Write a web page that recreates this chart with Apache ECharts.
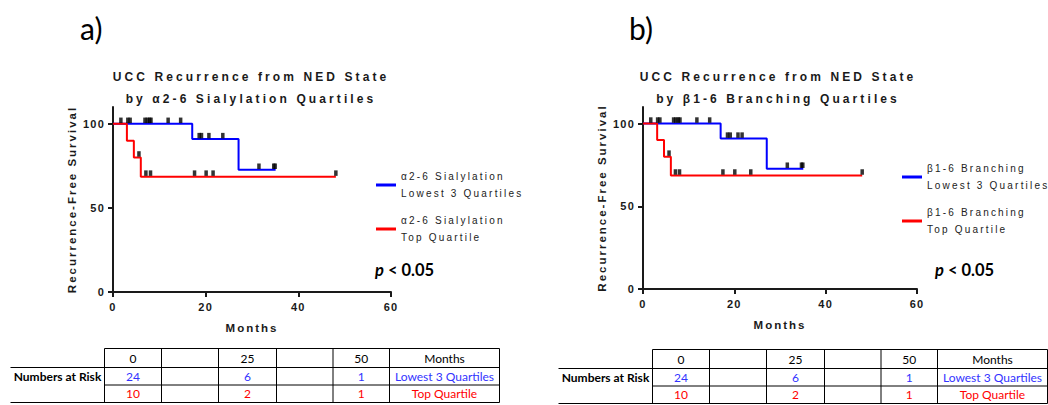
<!DOCTYPE html>
<html>
<head>
<meta charset="utf-8">
<title>UCC Recurrence from NED State</title>
<script src="https://cdn.jsdelivr.net/npm/echarts@6/dist/echarts.min.js"></script>
<style>
  html, body { margin: 0; padding: 0; background: #fff; }
  #chart { width: 1048px; height: 405px; }
  /* GraphPad-like spaced lettering (svg renderer only) */
  #chart text[style*="Liberation"][style*="12px"] { letter-spacing: 3.1px; }
  #chart text[style*="Liberation"][style*="11.5px"] { letter-spacing: 2px; }
  #chart text[style*="Liberation"][style*="11px"] { letter-spacing: 1.2px; }
  #chart text[style*="Liberation"][style*="10px"] { letter-spacing: 2.2px; }
</style>
</head>
<body>
<div id="chart"></div>
<script>
// panel a) : alpha2-6 sialylation
const aLowTimes = [0, 17.1, 27.1, 35.1]
const aLowSurv = [100, 90.9, 72.7, 72.7]
const aLowCensor = [1.7, 3.2, 3.7, 6.9, 7.4, 7.9, 8.2, 11.9, 14.6, 18.6, 19.1, 20.7, 23.7, 31.5, 34.7, 35.0]
const aTopTimes = [0, 3.0, 4.5, 6.0, 48.1]
const aTopSurv = [100, 90, 80, 68.6, 68.6]
const aTopCensor = [5.6, 7.1, 8.1, 17.6, 20.1, 21.6, 48.1]

// panel b) : beta1-6 branching
const bLowTimes = [0, 17.0, 27.1, 35.1]
const bLowSurv = [100, 90.9, 72.7, 72.7]
const bLowCensor = [1.7, 3.2, 3.7, 6.7, 7.2, 7.7, 8.1, 11.8, 14.6, 18.5, 19.1, 20.8, 21.7, 31.6, 34.7, 35.0]
const bTopTimes = [0, 3.1, 4.6, 6.1, 48.0]
const bTopSurv = [100, 90, 80, 68.6, 68.6]
const bTopCensor = [5.7, 7.1, 8.0, 17.5, 20.1, 23.6, 48.0]

const yTicks = [0, 50, 100]

// numbers at risk table
const riskMonths = ["0", "25", "50"]
const riskLow = [24, 6, 1]
const riskTop = [10, 2, 1]

const AX = "#1a1a1a"
const GP = "Liberation Sans"
const BLUE = "#0000ff"
const RED = "#ff0000"

const stepData = (times, surv) => times.map((t, i) => [t, surv[i]])
const survAt = (times, surv, t) => {
  let v = surv[0]
  times.forEach((x, i) => { if (x <= t) v = surv[i] })
  return v
}
const censorData = (times, surv, cens) => cens.map((t) => [t, survAt(times, surv, t)])

const panels = [
  {
    grid: { left: 113, top: 107, width: 278, height: 185 },
    cx: 251, tag: "a)", tagX: 80, pX: 375,
    title2: "by \u03b12-6 Sialylation Quartiles",
    lowName: "\u03b12-6 Sialylation\nLowest 3 Quartiles",
    topName: "\u03b12-6 Sialylation\nTop Quartile",
    legend: { left: 371, top: 163 },
    low: [aLowTimes, aLowSurv, aLowCensor],
    top: [aTopTimes, aTopSurv, aTopCensor],
    table: { x: 104.5, y: 348.5 },
  },
  {
    grid: { left: 643, top: 107, width: 274, height: 182 },
    cx: 778, tag: "b)", tagX: 629, pX: 935,
    title2: "by \u03b21-6 Branching Quartiles",
    lowName: "\u03b21-6 Branching\nLowest 3 Quartiles",
    topName: "\u03b21-6 Branching\nTop Quartile",
    legend: { left: 897, top: 155 },
    low: [bLowTimes, bLowSurv, bLowCensor],
    top: [bTopTimes, bTopSurv, bTopCensor],
    table: { x: 652.5, y: 349.5 },
  },
]

const gpText = (size, bold) => ({
  fontFamily: GP, fontSize: size, fontWeight: bold ? "bold" : "normal", color: AX,
})

const option = {
  animation: false,
  grid: [],
  xAxis: [],
  yAxis: [],
  legend: [],
  series: [],
  graphic: [],
}

panels.forEach((p, i) => {
  option.grid.push(p.grid)
  option.xAxis.push({
    gridIndex: i,
    type: "value",
    min: 0,
    max: 60,
    interval: 20,
    name: "Months",
    nameLocation: "middle",
    nameGap: 30,
    nameTextStyle: gpText(11.5, true),
    axisLine: { show: true, onZero: false, lineStyle: { color: AX, width: 2 } },
    axisTick: { show: true, length: 5, lineStyle: { color: AX, width: 2 } },
    axisLabel: { margin: 9, ...gpText(11, true) },
    splitLine: { show: false },
  })
  option.yAxis.push({
    gridIndex: i,
    type: "value",
    min: 0,
    max: 110,
    interval: 50,
    name: "Recurrence-Free Survival",
    nameLocation: "middle",
    nameRotate: 90,
    nameGap: 35,
    nameTextStyle: gpText(11.5, true),
    axisLine: { show: true, onZero: false, lineStyle: { color: AX, width: 2 } },
    axisTick: { show: true, length: 5, customValues: yTicks, lineStyle: { color: AX, width: 2 } },
    axisLabel: {
      margin: 8,
      customValues: yTicks,
      formatter: (v) => (yTicks.includes(v) ? String(v) : ""),
      ...gpText(11, true),
    },
    splitLine: { show: false },
  })

  option.legend.push({
    data: [p.lowName, p.topName],
    orient: "vertical",
    left: p.legend.left,
    top: p.legend.top,
    icon: "rect",
    itemWidth: 20,
    itemHeight: 3,
    itemGap: 10,
    selectedMode: false,
    textStyle: { ...gpText(10, false), color: "#222", lineHeight: 17 },
  })

  // survival curves
  ;[[p.lowName, p.low, BLUE], [p.topName, p.top, RED]].forEach(([name, d, color]) => {
    option.series.push({
      name: name,
      type: "line",
      step: "end",
      xAxisIndex: i,
      yAxisIndex: i,
      data: stepData(d[0], d[1]),
      showSymbol: false,
      symbol: "none",
      color: color,
      lineStyle: { color: color, width: 2 },
      z: 2,
    })
  })
  // censor tick marks
  ;[p.low, p.top].forEach((d) => {
    option.series.push({
      type: "scatter",
      xAxisIndex: i,
      yAxisIndex: i,
      data: censorData(d[0], d[1], d[2]),
      symbol: "rect",
      symbolSize: [3.5, 5.5],
      symbolOffset: [0, -3.5],
      itemStyle: { color: "#000" },
      z: 3,
    })
  })

  // titles
  option.graphic.push(
    { type: "text", x: p.cx, y: 77, style: { text: "UCC Recurrence from NED State", fontFamily: GP, fontSize: 12, fontWeight: "bold", fill: AX, textAlign: "center", textVerticalAlign: "middle" } },
    { type: "text", x: p.cx, y: 99, style: { text: p.title2, fontFamily: GP, fontSize: 12, fontWeight: "bold", fill: AX, textAlign: "center", textVerticalAlign: "middle" } },
    { type: "text", x: p.tagX, y: 28, style: { text: p.tag, fontFamily: "Lato", fontSize: 30, fill: "#000", textVerticalAlign: "middle" } },
    {
      type: "text", x: p.pX, y: 270,
      style: {
        text: "{i|p} < 0.05",
        fontFamily: "Lato", fontSize: 16.5, fontWeight: "bold", fill: "#000", textVerticalAlign: "middle",
        rich: { i: { fontFamily: "Lato", fontSize: 16.5, fontWeight: "bold", fontStyle: "italic", fill: "#000" } },
      },
    }
  )

  // numbers at risk table
  const x0 = p.table.x
  const y0 = p.table.y
  const cols = [0, 57, 114, 172, 228.5, 285, 395]
  const rows = [0, 19, 36.5, 54]
  const line = (x1, y1, x2, y2) => ({
    type: "line", shape: { x1, y1, x2, y2 }, style: { stroke: "#000", lineWidth: 1 },
  })
  option.graphic.push(
    line(x0, y0 + rows[0], x0 + cols[6], y0 + rows[0]),
    line(x0 - 94, y0 + rows[1], x0 + cols[6], y0 + rows[1]),
    line(x0, y0 + rows[2], x0 + cols[6], y0 + rows[2]),
    line(x0 - 94, y0 + rows[3], x0 + cols[6], y0 + rows[3])
  )
  cols.forEach((c) => option.graphic.push(line(x0 + c, y0, x0 + c, y0 + rows[3])))
  const cell = (x, y, text, color, bold) => ({
    type: "text", x, y,
    style: { text, fontFamily: "Lato", fontSize: 12, fontWeight: bold ? "bold" : "normal", fill: color, textAlign: "center", textVerticalAlign: "middle" },
  })
  const rowY = [y0 + 9.5, y0 + 27.7, y0 + 45]
  riskMonths.forEach((m, k) => {
    const cx = x0 + (cols[k * 2] + cols[k * 2 + 1]) / 2
    option.graphic.push(
      cell(cx, rowY[0], m, "#000"),
      cell(cx, rowY[1], String(riskLow[k]), "#3333ff"),
      cell(cx, rowY[2], String(riskTop[k]), RED)
    )
  })
  const lastX = x0 + (cols[5] + cols[6]) / 2
  option.graphic.push(
    cell(lastX, rowY[0], "Months", "#000"),
    cell(lastX, rowY[1], "Lowest 3 Quartiles", "#3333ff"),
    cell(lastX, rowY[2], "Top Quartile", RED),
    cell(x0 - 47, rowY[1], "Numbers at Risk", "#000", true)
  )
})

const chart = echarts.init(document.getElementById("chart"), null, { renderer: "svg" })
chart.setOption(option)
window.addEventListener("resize", () => {
  chart.resize()
})
</script>
</body>
</html>
